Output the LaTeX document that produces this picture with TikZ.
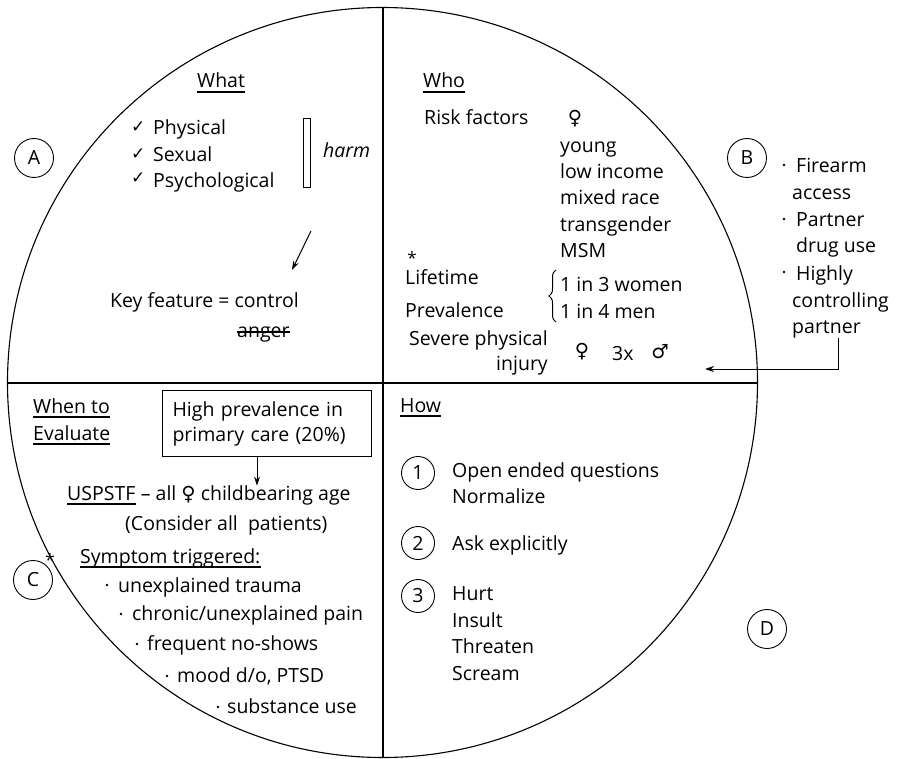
\documentclass[tikz,border=0pt]{standalone}
\usepackage{fontspec}
\setmainfont{Open Sans}
\newfontfamily\symfont{DejaVu Sans}
\usetikzlibrary{arrows.meta,decorations.pathreplacing}

\newcommand{\fem}{{\symfont ♀}}
\newcommand{\mal}{{\symfont ♂}}
\newcommand{\chk}{{\symfont\fontsize{17}{17}\selectfont ✓}}

\begin{document}
\begin{tikzpicture}[x=1pt,y=-1pt,
  every node/.style={font=\fontsize{19.5}{25}\selectfont},
  txt/.style={anchor=base west, inner sep=0pt},
  rtxt/.style={anchor=base east, inner sep=0pt},
  letterc/.style={circle, draw, line width=0.9pt, minimum size=39pt, inner sep=0pt},
  numc/.style={circle, draw, line width=0.9pt, minimum size=33pt, inner sep=0pt},
  uline/.style={line width=1.6pt},
  conn/.style={line width=1pt, -{Stealth[length=9pt,width=6pt]}},
  dotc/.style={circle, fill, inner sep=0pt, minimum size=2.8pt}]
\useasboundingbox (0,0) rectangle (899,759);

% outer circle split into four quadrants
\draw[line width=1.1pt] (382.5,382.5) circle[radius=375];
\draw[line width=1.1pt] (383,7.5) -- (383,757.5);
\draw[line width=1.1pt] (7.5,383) -- (757.5,383);

% ---------- What ----------
\node[letterc] (A) at (34,158) {A};
\node[txt] (what) at (197,88) {What};
\draw[uline] ([yshift=-4pt]what.base west) -- ([yshift=-4pt]what.base east);
\node[txt] (c1) at (131,133) {\chk};
\node[txt] (c2) at (131,160) {\chk};
\node[txt] (c3) at (131,184) {\chk};
\node[txt] (phys) at (153,135) {Physical};
\node[txt] (sex) at (153,162) {Sexual};
\node[txt] (psy) at (153,188) {Psychological};
\node[draw, line width=0.9pt, minimum width=7pt, minimum height=69pt, inner sep=0pt] (bar) at (306.5,152.5) {};
\node[txt] (harm) at (323,158) {\itshape harm};
\node[txt] (key) at (110,307) {Key feature = control};
\node[txt] (anger) at (237,337) {anger};
\draw[line width=1.2pt] ([yshift=5pt]anger.base west) -- ([yshift=5pt]anger.base east);
\coordinate (harmfrom) at (311,231);
\coordinate (harmto) at (292,270);
\draw[conn] (harmfrom) -- (harmto);

% ---------- Who ----------
\node[txt] (who) at (423,88) {Who};
\draw[uline] ([yshift=-4pt]who.base west) -- ([yshift=-4pt]who.base east);
\node[txt] (risk) at (424,125) {Risk factors};
\node[anchor=center, inner sep=0pt] (f1) at (575,119) {\fem};
\node[txt] (young) at (560,153) {young};
\node[txt] (low) at (560,179) {low income};
\node[txt] (mixed) at (560,205) {mixed race};
\node[txt] (trans) at (560,232) {transgender};
\node[txt] (msm) at (560,258) {MSM};
\node[anchor=center, inner sep=0pt, font=\fontsize{17}{17}\selectfont] (ast1) at (412,258) {*};
\node[txt] (life) at (405,284) {Lifetime};
\node[txt] (prev) at (405,317) {Prevalence};
\draw[line width=1pt, decorate, decoration={brace, amplitude=7pt}] (556,322) -- (556,270);
\node[txt] (women) at (560,291) {1 in 3 women};
\node[txt] (men) at (560,318) {1 in 4 men};
\node[txt] (sev) at (409,345) {Severe physical};
\node[rtxt] (inj) at (548,370) {injury};
\node[anchor=center, inner sep=0pt] (f2) at (582,352) {\fem};
\node[txt] (three) at (612,360) {3x};
\node[anchor=center, inner sep=0pt] (m1) at (660,352) {\mal};

% ---------- lethality factors ----------
\node[letterc] (B) at (747,158) {B};
\node[dotc] (d1) at (784,165) {};
\node[txt] (fire) at (796,173) {Firearm};
\node[txt] (acc) at (792,200) {access};
\node[dotc] (d2) at (784,219) {};
\node[txt] (part) at (796,227) {Partner};
\node[txt] (drug) at (796,253) {drug use};
\node[dotc] (d3) at (784,272) {};
\node[txt] (high) at (796,280) {Highly};
\node[txt] (ctrl) at (792,307) {controlling};
\node[txt] (ptnr) at (792,333) {partner};
\coordinate (injto) at (705,369);
\draw[conn] (ptnr.south -| 838,0) |- (injto);

% ---------- When to Evaluate ----------
\node[txt] (when) at (33,413) {When to};
\draw[uline] ([yshift=-4pt]when.base west) -- ([yshift=-4pt]when.base east);
\node[txt] (eval) at (33,440) {Evaluate};
\draw[uline] ([yshift=-4pt]eval.base west) -- ([yshift=-4pt]eval.base east);
\node[draw, line width=1pt, anchor=north west, minimum width=209pt, minimum height=66pt,
      text width=189pt, inner xsep=10pt, inner ysep=0pt, align=left] (hp) at (162,390)
  {High prevalence in\\primary care (20\%)};
\node[txt] (usp) at (67,500) {USPSTF};
\draw[uline] ([yshift=-4pt]usp.base west) -- ([yshift=-4pt]usp.base east);
\node[txt] (uspr) at (usp.base east) {\ – all \fem\ childbearing age};
\draw[conn] ([xshift=-10pt]hp.south) -- ([xshift=-10pt]hp.south |- usp.north);
\node[txt] (cons) at (125,530) {(Consider all \ patients)};
\node[anchor=center, inner sep=0pt, font=\fontsize{17}{17}\selectfont] (ast2) at (50,560) {*};
\node[letterc] (C) at (33,580) {C};
\node[txt] (symp) at (80,563) {Symptom triggered:};
\draw[uline] ([yshift=-4pt]symp.base west) -- ([yshift=-4pt]symp.base east);
\node[dotc] (e1) at (107,585) {};
\node[txt] (s1) at (118,592) {unexplained trauma};
\node[dotc] (e2) at (121,614) {};
\node[txt] (s2) at (132,620) {chronic/unexplained pain};
\node[dotc] (e3) at (137,644) {};
\node[txt] (s3) at (147,650) {frequent no-shows};
\node[dotc] (e4) at (167,676) {};
\node[txt] (s4) at (177,682) {mood d/o, PTSD};
\node[dotc] (e5) at (218,707) {};
\node[txt] (s5) at (227,713) {substance use};

% ---------- How ----------
\node[txt] (how) at (400,412) {How};
\draw[uline] ([yshift=-4pt]how.base west) -- ([yshift=-4pt]how.base east);
\node[numc] (n1) at (418,473) {1};
\node[txt] (open) at (452,477) {Open ended questions};
\node[txt] (norm) at (452,503) {Normalize};
\node[numc] (n2) at (418,543) {2};
\node[txt] (ask) at (452,550) {Ask explicitly};
\node[numc] (n3) at (418,596) {3};
\node[txt] (hurt) at (452,600) {Hurt};
\node[txt] (ins) at (452,627) {Insult};
\node[txt] (thr) at (452,653) {Threaten};
\node[txt] (scr) at (452,680) {Scream};
\node[letterc] (D) at (767,629) {D};
\end{tikzpicture}
\end{document}
